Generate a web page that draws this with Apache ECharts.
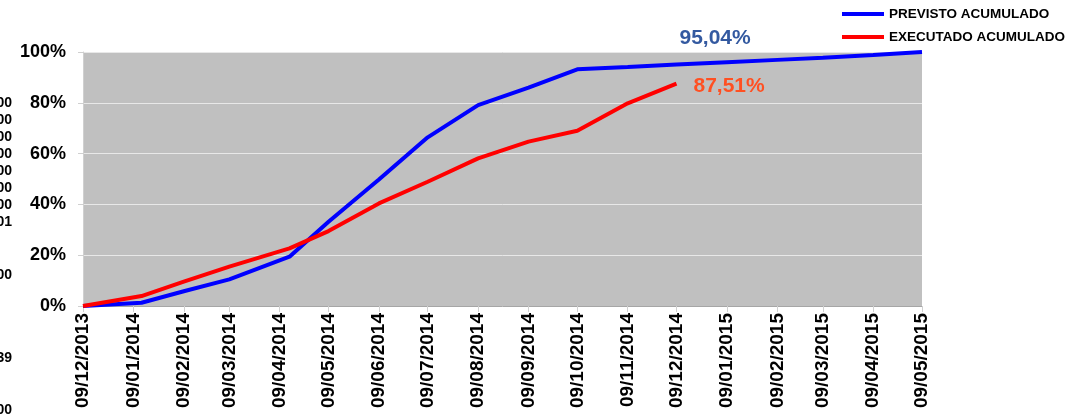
<!DOCTYPE html>
<html>
<head>
<meta charset="utf-8">
<script src="https://cdn.jsdelivr.net/npm/echarts@6/dist/echarts.min.js"></script>
<style>html,body{margin:0;padding:0;background:#fff;}#c{width:1084px;height:416px;}</style>
</head>
<body>
<div id="c"></div>
<script>
// Tick labels (monthly)
const tickLabels = ['09/12/2013','09/01/2014','09/02/2014','09/03/2014','09/04/2014','09/05/2014','09/06/2014','09/07/2014','09/08/2014','09/09/2014','09/10/2014','09/11/2014','09/12/2014','09/01/2015','09/02/2015','09/03/2015','09/04/2015','09/05/2015'];
const yTicks = [0, 20, 40, 60, 80, 100];

// Series: PREVISTO ACUMULADO
const previstoDates = ['09/12/2013','14/01/2014','09/02/2014','09/03/2014','15/04/2014','09/05/2014','09/06/2014','09/07/2014','09/08/2014','09/09/2014','09/10/2014','09/11/2014','09/12/2014','09/01/2015','09/02/2015','09/03/2015','09/04/2015','09/05/2015'];
const previstoValues = [0, 1.3, 5.8, 10.5, 19.4, 33.2, 49.8, 66.4, 79.1, 86.0, 93.2, 94.1, 95.04, 96.0, 96.9, 97.7, 98.8, 100];

// Series: EXECUTADO ACUMULADO
const executadoDates = ['09/12/2013','14/01/2014','09/02/2014','09/03/2014','15/04/2014','09/05/2014','09/06/2014','09/07/2014','09/08/2014','09/09/2014','09/10/2014','09/11/2014','09/12/2014'];
const executadoValues = [0, 3.9, 9.6, 15.5, 22.7, 29.5, 40.4, 48.9, 58.1, 64.7, 69.0, 79.8, 87.51];

// Highlighted values
const previstoHighlight = '09/12/2014';
const executadoHighlight = '09/12/2014';

// Clipped text fragments at the left edge of the picture
const edgeFragments = ['000','000','000','000','000','000','000','001','000','039','000'];
const edgeFragmentRows = [103, 120, 137, 154, 171, 188, 205, 222, 275, 358, 410];

const DAY = 86400000;
function parseD(s){ const p = s.split('/'); return Math.round(Date.UTC(+p[2], +p[1]-1, +p[0]) / DAY); }
const tickDays = tickLabels.map(parseD);
const labelMap = {}; tickDays.forEach((t,i)=>labelMap[t]=tickLabels[i]);
const fmtPct = v => v.toFixed(2).replace('.', ',') + '%';
const FF = 'Liberation Sans, Arial, sans-serif';

const prevData = previstoDates.map((d,i)=>{
  const item = {value:[parseD(d), previstoValues[i]]};
  if (d === previstoHighlight) item.label = {show:true, position:[3,-37], align:'left', verticalAlign:'top', formatter: p=>fmtPct(p.value[1]), color:'#3359a0', fontSize:21, fontWeight:'bold', fontFamily:FF};
  return item;
});
const execData = executadoDates.map((d,i)=>{
  const item = {value:[parseD(d), executadoValues[i]]};
  if (d === executadoHighlight) item.label = {show:true, position:[17,-8.5], align:'left', verticalAlign:'top', formatter: p=>fmtPct(p.value[1]), color:'#ff5022', fontSize:21, fontWeight:'bold', fontFamily:FF};
  return item;
});

const chart = echarts.init(document.getElementById('c'), null, {renderer:'canvas'});
chart.setOption({
  animation:false,
  backgroundColor:'#ffffff',
  grid:{left:83, right:162, top:52, bottom:110, show:true, backgroundColor:'#c0c0c0', borderWidth:0, containLabel:false},
  legend:{
    orient:'vertical', left:842, top:6, padding:0, itemWidth:42, itemHeight:4, itemGap:7, icon:'rect',
    textStyle:{fontFamily:FF, fontWeight:'bold', fontSize:13.5, color:'#000', lineHeight:16},
    data:['PREVISTO ACUMULADO','EXECUTADO ACUMULADO']
  },
  xAxis:{
    type:'value', min:tickDays[0], max:tickDays[tickDays.length-1],
    axisLine:{show:true, lineStyle:{color:'#a6a6a6', width:1}},
    axisTick:{show:true, length:6, lineStyle:{color:'#d0d0d0'}, customValues:tickDays},
    splitLine:{show:false},
    axisLabel:{customValues:tickDays, rotate:90, margin:7, interval:0, hideOverlap:false,
      formatter: v => labelMap[v] || '', fontFamily:FF, fontWeight:'bold', fontSize:19, color:'#000'}
  },
  yAxis:{
    type:'value', min:0, max:100, interval:20,
    axisLine:{show:true, lineStyle:{color:'#d0d0d0'}},
    axisTick:{show:true, length:5, lineStyle:{color:'#d0d0d0'}},
    splitLine:{show:true, lineStyle:{color:'#e8e8e8', width:1}},
    axisLabel:{formatter:'{value}%', margin:17, fontFamily:FF, fontWeight:'bold', fontSize:18, color:'#000'}
  },
  series:[
    {name:'PREVISTO ACUMULADO', type:'line', data:prevData, showSymbol:true, symbol:'circle', symbolSize:0, color:'#0000ff', lineStyle:{color:'#0000ff', width:4}, z:3, labelLayout:{hideOverlap:false}},
    {name:'EXECUTADO ACUMULADO', type:'line', data:execData, showSymbol:true, symbol:'circle', symbolSize:0, color:'#ff0000', lineStyle:{color:'#ff0000', width:4}, z:4, labelLayout:{hideOverlap:false}}
  ],
  graphic: edgeFragments.map((t,i)=>({
    type:'text', x:12, y:edgeFragmentRows[i],
    style:{text:t, align:'right', verticalAlign:'middle', font:'bold 14px Liberation Sans, Arial, sans-serif', fill:'#000'}
  }))
});
</script>
</body>
</html>
